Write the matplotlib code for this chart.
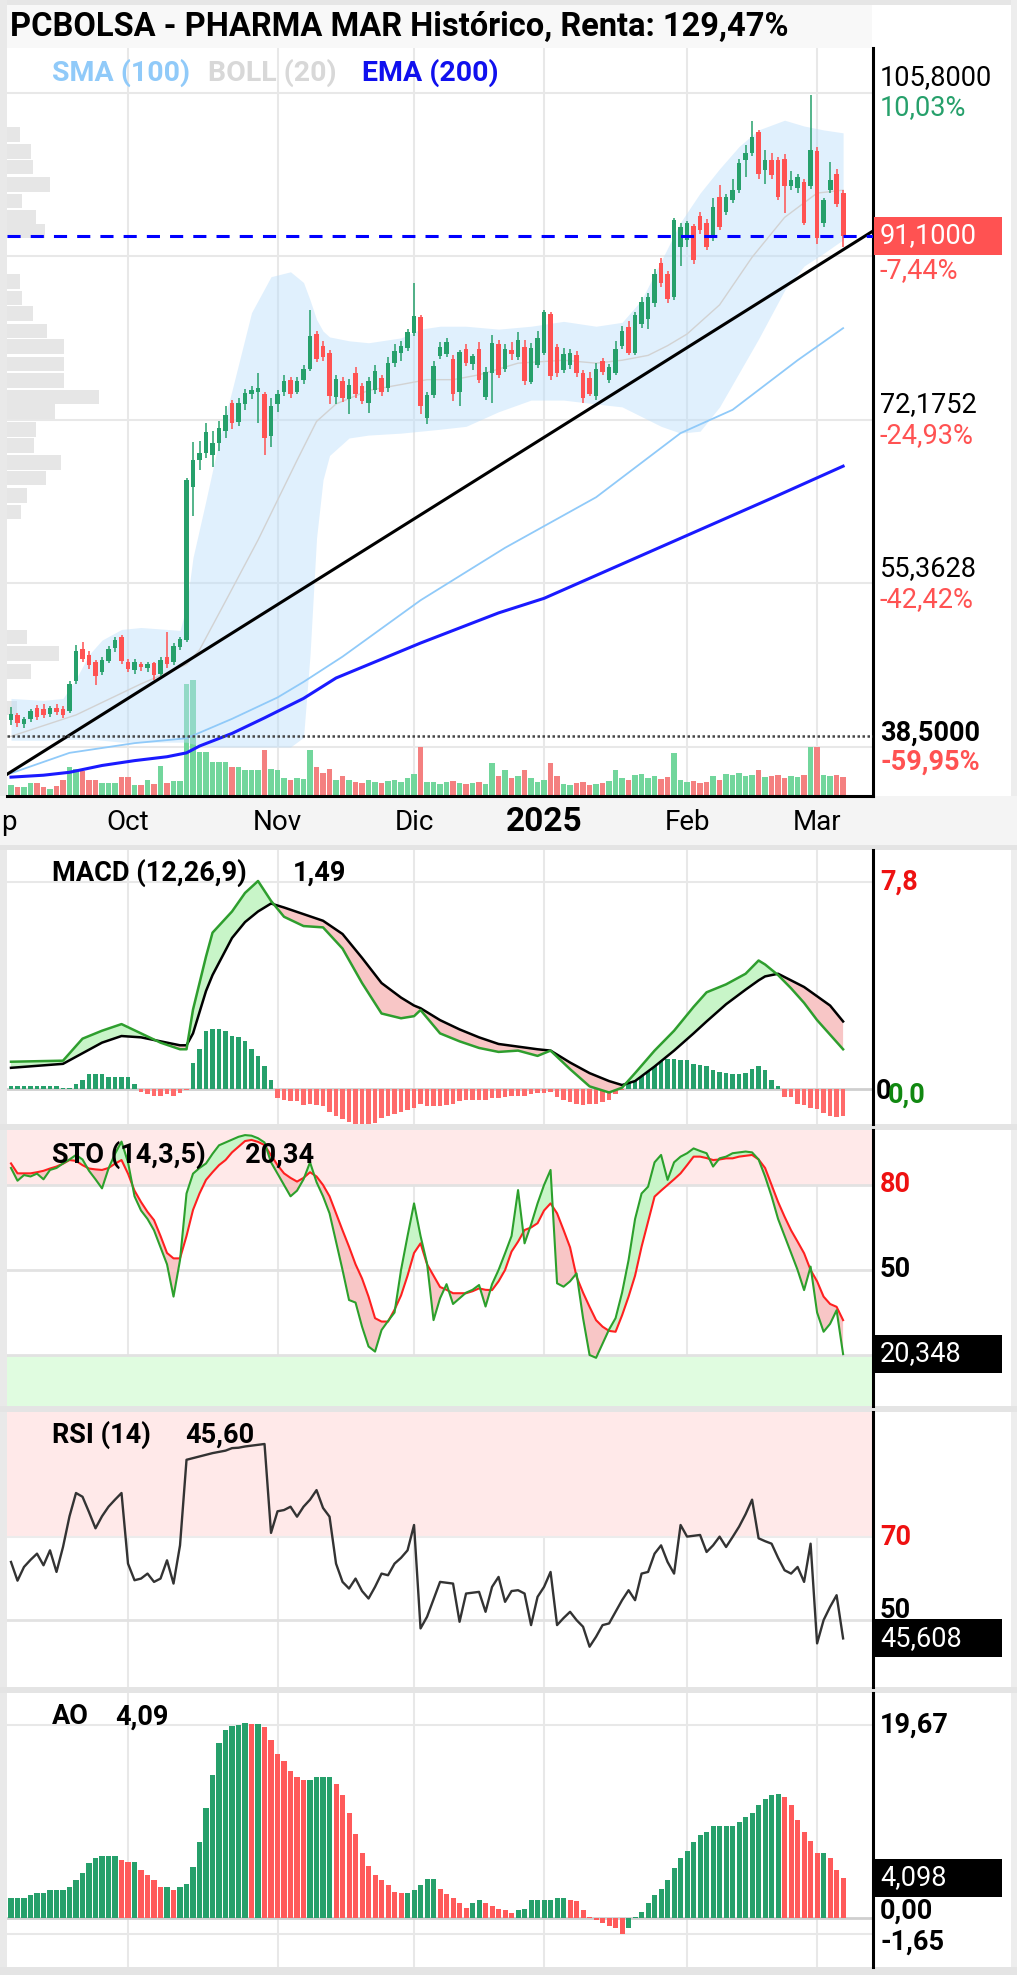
import numpy as np
import matplotlib.pyplot as plt
from matplotlib.patches import Rectangle

plt.rcParams['font.family'] = ['Roboto', 'DejaVu Sans']

# ---------------- datos ----------------
opens = [41.3, 41.8, 40.9, 41.4, 42.5, 42.4, 41.9, 42.5, 42.4, 42.2,
         45.3, 48.6, 48.0, 47.2, 46.2, 47.4, 48.7, 49.8, 47.2, 46.4,
         47.0, 46.6, 47.1, 46.0, 47.8, 47.2, 48.8, 49.5, 65.3, 68.0,
         68.8, 68.5, 69.8, 71.0, 73.9, 71.9, 73.8, 74.8, 75.0, 74.8,
         70.5, 73.8, 75.0, 76.3, 75.0, 76.3, 77.4, 81.0, 79.8, 79.0,
         74.5, 76.2, 74.3, 77.0, 75.6, 73.9, 75.2, 76.5, 75.4, 78.0,
         79.0, 79.6, 81.1, 82.8, 72.4, 74.7, 78.7, 78.9, 78.4, 75.0,
         79.5, 77.9, 79.5, 74.5, 77.0, 80.0, 77.4, 79.4, 78.6, 79.7,
         76.1, 77.8, 79.0, 83.1, 79.7, 77.3, 77.8, 78.8, 77.0, 76.5,
         74.6, 78.2, 76.3, 77.0, 79.8, 81.7, 79.0, 82.0, 82.5, 84.2,
         88.3, 87.2, 84.8, 90.0, 90.7, 92.1, 93.1, 92.4, 91.0, 95.1,
         93.6, 94.8, 95.8, 98.9, 99.6, 101.8, 97.9, 98.9, 98.9, 99.0,
         96.2, 96.0, 96.6, 96.2, 99.8, 92.4, 95.8, 97.5, 95.5]
highs = [42.6, 42.0, 41.6, 42.4, 42.8, 42.9, 42.7, 42.9, 42.7, 45.3,
         49.0, 49.3, 48.4, 47.5, 47.8, 48.9, 49.8, 50.0, 47.6, 47.6,
         47.3, 47.3, 47.3, 47.8, 50.3, 49.2, 49.8, 66.2, 69.9, 70.0,
         71.8, 71.0, 72.0, 73.6, 74.2, 74.4, 75.3, 75.6, 77.0, 75.0,
         74.4, 75.2, 76.8, 76.6, 76.6, 77.8, 83.5, 81.3, 80.3, 79.4,
         76.8, 76.6, 76.4, 77.6, 76.0, 76.6, 77.8, 76.8, 78.6, 80.0,
         80.3, 81.5, 86.2, 83.0, 75.0, 78.2, 80.2, 80.6, 78.8, 79.4,
         80.0, 78.9, 80.2, 77.6, 80.9, 80.4, 80.0, 80.2, 81.2, 80.4,
         80.1, 81.3, 83.5, 83.3, 80.0, 79.6, 79.5, 79.2, 77.3, 77.1,
         78.0, 78.5, 77.9, 80.3, 81.8, 82.3, 83.3, 84.8, 85.2, 87.7,
         88.8, 87.5, 92.9, 92.4, 92.6, 92.3, 93.6, 92.8, 95.0, 96.3,
         95.4, 97.0, 99.0, 100.5, 102.9, 102.0, 99.9, 99.6, 99.2, 99.5,
         97.8, 97.5, 97.0, 105.6, 100.2, 95.0, 98.7, 98.0, 95.8]
lows = [40.8, 40.6, 40.5, 41.1, 41.3, 41.5, 41.6, 41.8, 41.5, 42.0,
        45.0, 47.2, 46.5, 44.9, 45.9, 47.1, 48.3, 47.0, 46.2, 46.0,
        46.3, 46.2, 45.4, 45.8, 46.6, 46.9, 48.5, 49.3, 62.3, 67.0,
        68.2, 67.3, 69.0, 70.3, 71.2, 71.5, 73.2, 74.3, 71.8, 68.6,
        69.4, 73.0, 74.6, 74.4, 74.8, 75.9, 77.2, 78.1, 78.2, 73.8,
        73.8, 74.0, 72.8, 74.4, 73.8, 72.9, 74.8, 74.6, 75.0, 77.6,
        78.2, 79.2, 80.8, 72.8, 71.7, 74.4, 78.4, 78.6, 74.1, 73.6,
        77.7, 77.3, 76.0, 74.2, 73.9, 76.5, 77.1, 78.3, 78.3, 75.8,
        75.9, 77.5, 78.8, 76.3, 76.6, 77.0, 77.4, 76.6, 73.9, 74.6,
        74.2, 76.8, 76.0, 76.8, 79.5, 78.8, 78.8, 81.6, 81.5, 83.8,
        85.8, 84.2, 84.5, 88.0, 90.0, 88.2, 91.3, 89.6, 90.6, 91.7,
        93.2, 94.5, 95.5, 97.2, 99.3, 96.9, 96.4, 97.0, 94.8, 93.5,
        95.8, 95.5, 92.2, 95.9, 90.3, 92.0, 95.5, 94.1, 90.0]
closes = [41.9, 41.0, 41.4, 42.2, 41.6, 41.8, 42.5, 42.1, 41.8, 45.0,
          48.4, 47.6, 46.9, 45.8, 47.5, 48.6, 49.5, 47.4, 46.5, 47.3,
          46.7, 47.0, 45.9, 47.5, 47.0, 48.9, 49.6, 66.0, 68.0, 68.8,
          70.9, 69.8, 71.3, 72.7, 71.8, 73.9, 74.9, 75.2, 75.4, 70.3,
          73.6, 74.8, 76.2, 74.8, 76.2, 77.4, 80.8, 78.4, 78.6, 74.6,
          76.4, 74.4, 75.8, 74.8, 74.1, 76.2, 77.2, 75.0, 78.0, 79.2,
          79.8, 81.2, 82.9, 73.6, 74.7, 77.7, 79.7, 80.2, 74.8, 79.1,
          78.0, 78.7, 76.3, 77.1, 80.1, 76.8, 79.5, 78.9, 80.4, 76.2,
          79.6, 80.6, 83.3, 76.7, 77.0, 78.9, 79.0, 77.0, 74.4, 74.8,
          77.4, 77.1, 77.6, 79.5, 81.3, 79.0, 83.0, 84.3, 84.8, 87.2,
          86.2, 84.6, 92.7, 92.0, 92.4, 88.6, 91.7, 90.0, 94.1, 92.0,
          95.1, 95.8, 98.6, 99.6, 101.3, 97.5, 98.9, 97.4, 95.1, 96.2,
          96.8, 97.2, 92.4, 99.9, 90.9, 94.8, 96.8, 94.4, 91.1]
volume = [11, 9, 9, 13, 13, 9, 7, 10, 16, 29,
          27, 25, 16, 16, 13, 13, 13, 19, 19, 11,
          11, 16, 12, 30, 13, 15, 15, 112, 116, 44,
          44, 34, 34, 34, 29, 29, 26, 26, 26, 46,
          27, 26, 18, 16, 18, 17, 46, 29, 23, 27,
          16, 20, 16, 14, 13, 16, 14, 13, 15, 16,
          14, 18, 22, 49, 14, 14, 12, 14, 15, 13,
          12, 13, 14, 12, 33, 20, 26, 18, 20, 26,
          18, 14, 16, 33, 20, 12, 11, 13, 14, 11,
          12, 13, 15, 26, 18, 16, 21, 22, 18, 20,
          17, 19, 43, 16, 14, 15, 13, 14, 20, 16,
          22, 21, 23, 20, 21, 26, 19, 20, 21, 18,
          20, 19, 21, 49, 49, 21, 20, 21, 19]

# medias y bandas (puntos leidos: indice de sesion, valor)
bb_x = [0, 5, 8, 10, 12, 14, 17, 20, 24, 26, 27, 28, 30, 32, 34, 37, 40, 43, 45, 46,
        47, 48, 49, 52, 55, 60, 63, 66, 70, 75, 80, 85, 90, 94, 97, 100, 103, 106, 109,
        112, 115, 119, 122, 125, 128]
bb_up = [43.5, 43.3, 43.5, 45.5, 48.0, 49.5, 50.6, 50.8, 50.6, 50.5, 53.0, 58.0, 63.9,
         70.0, 75.2, 83.2, 86.9, 87.4, 86.3, 84.5, 82.5, 81.3, 80.7, 80.3, 80.1, 80.6,
         81.5, 81.8, 81.8, 81.5, 81.8, 82.3, 81.8, 82.2, 84.5, 88.5, 92.5, 95.5, 98.0,
         100.3, 102.0, 103.0, 102.4, 102.0, 101.7]
bb_lo = [39.2, 39.2, 39.3, 39.3, 39.3, 39.2, 39.0, 39.0, 39.0, 39.0, 39.0, 38.8, 38.6,
         38.5, 38.5, 38.5, 38.5, 38.5, 39.5, 48.0, 60.0, 66.0, 68.5, 70.3, 70.6, 70.8,
         71.0, 71.2, 71.5, 73.0, 74.2, 74.2, 73.8, 73.5, 72.5, 71.5, 70.8, 71.0, 73.5,
         77.0, 80.5, 85.5, 88.0, 89.3, 90.7]
bb_mid_x = [0, 10, 20, 27, 29, 33, 38, 41, 44, 47, 50, 55, 60, 64, 68, 72, 78, 85, 90,
            94, 98, 101, 104, 109, 114, 119, 124, 128]
bb_mid = [39.6, 41.8, 45.0, 47.0, 48.5, 53.5, 59.8, 63.9, 68.0, 72.0, 73.8, 75.2, 75.8,
          76.3, 76.3, 76.8, 78.0, 78.3, 78.0, 78.3, 78.8, 79.8, 81.0, 84.0, 88.9, 93.0,
          95.5, 95.8]
sma_x = [0, 9, 19, 27, 34, 41, 45, 51, 63, 76, 90, 103, 111, 121, 128]
sma100 = [35.8, 37.9, 38.9, 39.4, 41.4, 43.6, 45.2, 47.8, 53.6, 59.0, 64.2, 70.8, 73.2,
          78.3, 81.6]
ema_x = [0, 5, 9, 14, 19, 24, 27, 29, 34, 39, 45, 50, 63, 75, 82, 100, 117, 128]
ema200 = [35.4, 35.6, 35.9, 36.6, 37.1, 37.5, 37.9, 38.6, 39.9, 41.5, 43.5, 45.6, 49.2,
          52.3, 53.8, 59.1, 64.1, 67.4]
trend_x = [-0.6, 132.6]
trend_y = [35.7, 91.6]
last_price = 91.1
dotted_level = 39.63

# perfil de volumen (precio, ancho en sesiones)
vp_price = [101.5, 99.8, 98.2, 96.4, 94.7, 93.0, 91.6, 86.4, 84.7, 83.1, 81.3, 79.7,
            77.9, 76.2, 74.5, 73.0, 71.2, 69.5, 67.8, 66.2, 64.4, 62.7, 49.8, 48.1,
            46.3, 42.5]
vp_width = [2.0, 3.7, 4.0, 6.6, 2.3, 4.5, 5.8, 2.0, 2.3, 4.0, 6.2, 8.8, 8.8, 8.8, 14.2,
            7.4, 4.5, 4.2, 8.3, 6.0, 3.1, 2.2, 3.1, 8.0, 3.7, 1.5]

# rejilla de precios y etiquetas
grid_prices = [105.8, 88.99, 72.1752, 55.3628, 38.5]
month_idx = [18, 41, 62, 82, 104, 124]
month_lbl = ['Oct', 'Nov', 'Dic', '2025', 'Feb', 'Mar']

# MACD (12,26,9)
macd_x = [0, 8, 11, 14, 17, 20, 23, 26, 27, 28, 30, 31, 34, 36, 38, 40, 42, 45, 48, 51,
          54, 57, 60, 62, 63, 66, 69, 72, 75, 78, 81, 83, 86, 89, 92, 94, 96, 99, 102,
          105, 107, 110, 113, 115, 116, 118, 120, 122, 124, 126, 128]
macd = [1.03, 1.07, 1.9, 2.2, 2.45, 2.1, 1.75, 1.5, 1.5, 3.0, 5.0, 5.9, 6.7, 7.4, 7.85,
        7.1, 6.5, 6.15, 6.1, 5.3, 4.0, 2.85, 2.67, 2.75, 2.98, 2.1, 1.8, 1.55, 1.4, 1.45,
        1.25, 1.45, 0.75, 0.1, -0.13, 0.05, 0.6, 1.45, 2.2, 3.1, 3.65, 3.95, 4.35, 4.85,
        4.7, 4.3, 3.8, 3.25, 2.6, 2.05, 1.5]
macd_signal = [0.8, 0.95, 1.35, 1.75, 2.0, 1.95, 1.8, 1.65, 1.65, 2.1, 3.7, 4.3, 5.7, 6.3,
               6.7, 7.0, 6.85, 6.6, 6.35, 5.85, 4.95, 4.0, 3.45, 3.15, 3.05, 2.6, 2.25,
               1.95, 1.7, 1.6, 1.5, 1.45, 1.0, 0.6, 0.3, 0.15, 0.3, 0.85, 1.45, 2.1, 2.55,
               3.2, 3.75, 4.1, 4.25, 4.35, 4.1, 3.85, 3.5, 3.15, 2.55]
macd_hist = [0.12, 0.13, 0.12, 0.13, 0.12, 0.13, 0.12, 0.10, 0.03, 0.05,
             0.2, 0.35, 0.55, 0.55, 0.55, 0.45, 0.45, 0.45, 0.45, 0.2,
             -0.1, -0.2, -0.28, -0.28, -0.2, -0.25, -0.15, -0.05, 1.0, 1.5,
             2.2, 2.25, 2.25, 2.2, 2.0, 1.95, 1.8, 1.5, 1.25, 0.85,
             0.35, -0.35, -0.4, -0.45, -0.45, -0.6, -0.55, -0.6, -0.65, -0.85,
             -1.0, -1.15, -1.25, -1.35, -1.4, -1.35, -1.3, -1.1, -1.0, -0.95,
             -0.85, -0.8, -0.7, -0.55, -0.65, -0.65, -0.65, -0.6, -0.55, -0.45,
             -0.4, -0.4, -0.4, -0.4, -0.35, -0.35, -0.3, -0.28, -0.25, -0.25,
             -0.2, -0.15, -0.15, -0.1, -0.3, -0.4, -0.5, -0.55, -0.6, -0.55,
             -0.55, -0.5, -0.4, -0.2, -0.05, 0.23, 0.45, 0.55, 0.8, 1.05,
             1.15, 1.15, 1.15, 1.1, 1.1, 0.95, 0.9, 0.85, 0.7, 0.65,
             0.6, 0.55, 0.55, 0.6, 0.75, 0.85, 0.7, 0.35, 0.1, -0.3,
             -0.3, -0.55, -0.6, -0.7, -0.75, -0.9, -1.0, -1.05, -1.0]

# Estocastico (14,3,5)
sto_k = [86, 81.5, 83.5, 83, 84, 82, 85.3, 86, 87.6, 89,
         90.6, 89, 85, 82, 78.8, 85.8, 91, 95.3, 88, 76,
         71, 68, 64, 58, 52, 40.6, 53.5, 77, 84, 86,
         87.6, 91, 94, 95, 96, 97, 97.6, 97.4, 96.5, 95,
         88, 84, 80, 76, 78, 82, 88, 81, 76, 70,
         60, 50, 39.4, 38.5, 30, 23, 21.2, 28.8, 32, 35,
         50, 62, 73.5, 62, 52.3, 32.3, 40, 45, 38, 40,
         42, 43, 44.7, 37.1, 45, 50, 55.9, 62, 78.2, 59.4,
         66, 73.5, 80, 85.3, 45.3, 44.1, 46, 48.8, 33, 20,
         19, 24, 29, 33, 42, 53.5, 68, 77, 79.4, 88,
         90.6, 81.8, 88, 90, 91.2, 92.9, 92, 91.2, 86.5, 89.4,
         90, 91.2, 91.5, 91.8, 91.5, 89, 83, 76, 68, 62,
         56, 50, 42.9, 51.2, 35, 28.2, 31, 35.8, 20.3]
sto_d = [87.6, 84.1, 84.1, 84.1, 84.5, 85, 85.8, 86.5, 87.5, 88.8,
         88.5, 87, 85.8, 85.5, 85.3, 86, 87.5, 88.8, 84, 78,
         74, 70.5, 67.6, 62, 56, 54.1, 54.1, 62, 71.2, 77,
         81.8, 84.5, 87, 88.8, 91.5, 93.5, 95.5, 95.9, 95.2, 94.1,
         90.5, 87, 84.1, 82.5, 81.2, 82.5, 84.5, 83, 80, 76,
         70, 64, 58.2, 52, 47, 40.6, 33, 31.8, 31.8, 36,
         41, 48, 56, 59.4, 52, 48, 44, 43, 41.8, 41.8,
         41.8, 42.5, 43.5, 43, 42.9, 46, 50, 56.5, 60, 64.1,
         65, 66.5, 71, 73.5, 70, 64.1, 58, 47.6, 42, 37,
         32.3, 30, 28.5, 28.2, 34, 40.6, 48, 58.2, 67, 75.9,
         78, 80, 82, 84.1, 87, 90, 90, 89.5, 88.8, 89,
         89.4, 89.4, 90, 90.3, 90.6, 89, 86, 80, 74, 68.8,
         64, 60, 55.9, 50, 46, 40.6, 38, 37, 32.3]

# RSI (14)
rsi = [64.0, 59.5, 62.8, 64.5, 66.0, 63.2, 66.8, 61.6, 67.6, 75.0,
       80.6, 79.7, 76.0, 72.1, 75.0, 77.3, 79.0, 80.6, 63.6, 59.6,
       60.0, 61.2, 59.2, 60.0, 64.4, 58.8, 68.0, 88.6, 89.0, 89.4,
       89.8, 90.2, 90.5, 90.8, 91.4, 91.5, 91.8, 92.0, 92.2, 92.4,
       71.0, 76.2, 76.5, 77.3, 74.9, 77.3, 79.0, 81.3, 77.0, 74.9,
       63.6, 59.2, 57.6, 60.0, 57.0, 55.2, 58.0, 61.2, 60.8, 63.6,
       65.0, 66.8, 72.9, 48.0, 50.8, 55.0, 59.2, 59.0, 58.8, 49.6,
       56.4, 56.6, 56.8, 52.0, 58.0, 60.4, 54.4, 57.0, 57.2, 56.4,
       48.8, 55.6, 58.0, 61.6, 48.8, 50.5, 52.0, 50.0, 48.4, 43.6,
       46.0, 48.8, 49.2, 52.0, 54.8, 57.2, 54.8, 61.2, 61.6, 66.0,
       68.0, 64.0, 61.2, 72.9, 70.1, 70.3, 70.5, 66.4, 68.0, 70.1,
       67.6, 70.0, 72.5, 75.5, 79.0, 69.7, 69.0, 68.4, 65.0, 62.0,
       61.2, 62.8, 59.2, 68.4, 44.4, 50.0, 53.2, 56.0, 45.6]

# Awesome Oscillator
ao = [2.0, 2.0, 2.0, 2.4, 2.6, 2.6, 2.9, 2.9, 2.9, 3.2,
      3.9, 4.6, 5.6, 6.1, 6.35, 6.35, 6.35, 5.9, 5.7, 5.7,
      4.9, 4.4, 3.9, 3.2, 3.2, 2.9, 3.2, 3.5, 5.2, 7.8,
      11.2, 14.6, 17.8, 19.2, 19.6, 19.7, 19.85, 19.75, 19.8, 19.5,
      18.2, 16.7, 16.0, 15.0, 14.4, 14.1, 14.1, 14.4, 14.4, 14.4,
      13.7, 12.5, 10.7, 8.6, 6.6, 5.3, 4.4, 3.9, 3.4, 2.7,
      2.6, 2.6, 2.9, 3.4, 4.0, 4.0, 3.0, 2.5, 2.0, 1.5,
      1.0, 1.5, 1.8, 1.5, 1.2, 0.9, 0.8, 0.5, 0.8, 0.9,
      1.8, 1.8, 1.8, 1.8, 2.0, 2.0, 1.8, 1.7, 0.8, 0.1,
      -0.25, -0.5, -0.8, -1.0, -1.6, -1.0, 0.1, 0.6, 1.5, 2.4,
      3.0, 3.9, 5.1, 6.1, 6.8, 7.8, 8.5, 8.8, 9.4, 9.4,
      9.4, 9.4, 9.8, 10.3, 10.7, 11.5, 12.1, 12.5, 12.6, 12.3,
      11.5, 10.0, 8.8, 7.9, 6.6, 6.6, 6.1, 4.9, 4.1]

# ---------------- estilo ----------------
GREEN = '#26a06b'
RED = '#ff5252'
VGREEN = '#72d69c'
VRED = '#f48080'
GRID = '#e8e8e8'
FS = 19.5

W, H = 1017, 1975
fig = plt.figure(figsize=(W / 100, H / 100), dpi=100)
fig.patch.set_facecolor('white')


def axes_px(x0, y0, x1, y1):
    return fig.add_axes([x0 / W, 1 - y1 / H, (x1 - x0) / W, (y1 - y0) / H])


def rect_px(x0, y0, x1, y1, color, z=-5):
    fig.add_artist(Rectangle((x0 / W, 1 - y1 / H), (x1 - x0) / W, (y1 - y0) / H,
                             transform=fig.transFigure, fc=color, ec='none', zorder=z))


def txt_px(x, y, s, **kw):
    kw.setdefault('fontsize', FS)
    kw.setdefault('va', 'center')
    fig.text(x / W, 1 - y / H, s, **kw)


def ypx(a, v):
    return a.transData.transform((0, v))[1]


def rlabel(a, v, s, color='black', dy=0, weight='normal', x=880, size=FS):
    fig.text(x / W, (ypx(a, v) + dy) / H, s, color=color, fontsize=size,
             fontweight=weight, va='center', ha='left', zorder=6)


def rbox(a, v, s, fc):
    yc = ypx(a, v)
    fig.add_artist(Rectangle((874 / W, (yc - 19) / H), 128 / W, 38 / H,
                             transform=fig.transFigure, fc=fc, ec='none', zorder=5))
    fig.text(880 / W, yc / H, s, color='white', fontsize=FS, va='center',
             ha='left', zorder=7)


def clean(a, right=True):
    for s in a.spines.values():
        s.set_visible(False)
    if right:
        a.spines['right'].set_visible(True)
        a.spines['right'].set_color('black')
        a.spines['right'].set_linewidth(2.2)
    a.set_xticks([])
    a.set_yticks([])


XL = (-0.615, 132.6)
x = np.arange(len(closes))
o = np.array(opens)
c = np.array(closes)
h = np.array(highs)
l = np.array(lows)
up = c >= o

# ---------------- fondos y franjas ----------------
rect_px(0, 0, W, 5, '#e6e6e6')
rect_px(0, 5, 872, 48, '#f8f8f8')
rect_px(0, 0, 7, H, '#e9e9e9')
rect_px(1011, 0, W, H, '#ededed')
rect_px(0, 796, W, 845, '#f4f4f4')
for y0, y1 in [(845, 850), (1124, 1130), (1406, 1412), (1687, 1693), (1967, H)]:
    rect_px(0, y0, W, y1, '#e4e4e4')

# ---------------- grafico principal ----------------
MAIN = (7, 48, 873, 796)
PY = (33.46, 110.43)

axb = axes_px(*MAIN)
axb.set_xlim(XL)
axb.set_ylim(PY)
clean(axb, right=False)
for p in grid_prices:
    axb.axhline(p, color=GRID, lw=1.5, zorder=0)
for m in month_idx:
    axb.axvline(m, color=GRID, lw=1.5, zorder=0)
axb.barh(vp_price, vp_width, height=1.5, left=XL[0], color='#e6e6e6', zorder=1)

axv = axes_px(*MAIN)
axv.set_xlim(XL)
axv.set_ylim(0, 748)
axv.patch.set_visible(False)
clean(axv, right=False)
axv.bar(x, volume, width=0.8, color=np.where(up, VGREEN, VRED), zorder=1)

ax = axes_px(*MAIN)
ax.set_xlim(XL)
ax.set_ylim(PY)
ax.patch.set_visible(False)
clean(ax)
ax.spines['bottom'].set_visible(True)
ax.spines['bottom'].set_color('black')
ax.spines['bottom'].set_linewidth(2.2)

ax.fill_between(bb_x, bb_lo, bb_up, color='#bbdefb', alpha=0.45, lw=0, zorder=1)
ax.plot(bb_mid_x, bb_mid, color='#d2d2d2', lw=1.0, zorder=2)
ax.plot(sma_x, sma100, color='#90caf9', lw=1.3, zorder=2)
ax.plot(ema_x, ema200, color='#1a1aff', lw=2.2, zorder=2)
ax.plot(trend_x, trend_y, color='black', lw=2.2, zorder=3)
ax.axhline(dotted_level, color='#444444', lw=1.8, dashes=(1.0, 1.0), zorder=3)

col = np.where(up, GREEN, RED)
ax.vlines(x, l, h, colors=col, lw=1.1, zorder=4)
ax.bar(x, np.maximum(np.abs(c - o), 0.2), bottom=np.minimum(o, c), width=0.74,
       color=col, zorder=5)
ax.axhline(last_price, color='#0000ff', lw=2.2, dashes=(4.3, 3.3), zorder=6)

# titulo y leyenda
txt_px(10, 27, 'PCBOLSA - PHARMA MAR Histórico, Renta: 129,47%', fontweight='bold',
       fontsize=23.5)
txt_px(52, 73, 'SMA (100)', color='#90caf9', fontweight='bold', fontsize=20.5)
txt_px(208, 73, 'BOLL (20)', color='#d8d8d8', fontweight='bold', fontsize=20.5)
txt_px(362, 73, 'EMA (200)', color='#1010ee', fontweight='bold', fontsize=20.5)

# etiquetas del eje derecho
rlabel(ax, 105.8, '105,8000', dy=15)
rlabel(ax, 105.8, '10,03%', color=GREEN, dy=-15)
rlabel(ax, 88.99, '-7,44%', color=RED, dy=-14)
rlabel(ax, 72.1752, '72,1752', dy=15)
rlabel(ax, 72.1752, '-24,93%', color=RED, dy=-16)
rlabel(ax, 55.3628, '55,3628', dy=15)
rlabel(ax, 55.3628, '-42,42%', color=RED, dy=-16)
rlabel(ax, 38.5, '38,5000', dy=14, weight='bold')
rlabel(ax, 38.5, '-59,95%', color=RED, dy=-15, weight='bold')
rbox(ax, last_price, '91,1000', RED)

# eje de fechas
axd = axes_px(0, 796, 873, 845)
axd.set_xlim(-1.692, 132.6)
axd.set_ylim(0, 1)
axd.patch.set_visible(False)
clean(axd, right=False)
axd.text(-0.3, 0.45, 'p', fontsize=20, ha='center', va='center')
for m, s in zip(month_idx, month_lbl):
    if s == '2025':
        axd.text(m, 0.47, s, fontsize=24, fontweight='bold', ha='center', va='center')
    else:
        axd.text(m, 0.45, s, fontsize=20, ha='center', va='center')


def panel(y0, y1, ylim):
    a = axes_px(7, y0, 873, y1)
    a.set_xlim(XL)
    a.set_ylim(ylim)
    clean(a)
    for m in month_idx:
        a.axvline(m, color=GRID, lw=1.5, zorder=0)
    return a


LW = 'bold'

# ---------------- MACD ----------------
am = panel(850, 1124, (-1.32, 9.02))
am.axhline(7.8, color=GRID, lw=1.5, zorder=0)
am.axhline(0, color='#cfcfcf', lw=2, zorder=0)
hcol = np.where(np.array(macd_hist) >= 0, GREEN, '#ff6b6b')
am.bar(x, macd_hist, width=0.7, color=hcol, zorder=1)
mx = np.array(macd_x, dtype=float)
mv = np.array(macd)
sv = np.array(macd_signal)
am.fill_between(mx, mv, sv, where=mv >= sv, interpolate=True, color='#c8f5c8', lw=0, zorder=2)
am.fill_between(mx, mv, sv, where=mv < sv, interpolate=True, color='#f8c6c6', lw=0, zorder=2)
am.plot(mx, sv, color='black', lw=1.8, zorder=3)
am.plot(mx, mv, color='#2e9e2e', lw=1.8, zorder=4)
txt_px(52, 873, 'MACD (12,26,9)', fontweight=LW)
txt_px(293, 873, '1,49', fontweight=LW)
rlabel(am, 7.8, '7,8', color='#ee1111', weight='bold')
rlabel(am, 0, '0', dy=-2, x=876, weight='bold')
rlabel(am, 0, '0,0', color='#118811', dy=-6, x=888, weight='bold')

# ---------------- Estocastico ----------------
ast = panel(1130, 1406, (2.0, 99.4))
ast.axhspan(80, 100, color='#ffe9e9', lw=0, zorder=0)
ast.axhspan(0, 20, color='#e0fce0', lw=0, zorder=0)
for v in (80, 50, 20):
    ast.axhline(v, color='#e2e2e2', lw=2, zorder=0)
kv = np.array(sto_k)
dv = np.array(sto_d)
ast.fill_between(x, kv, dv, where=kv >= dv, interpolate=True, color='#c8f5c8', lw=0, zorder=2)
ast.fill_between(x, kv, dv, where=kv < dv, interpolate=True, color='#f8c6c6', lw=0, zorder=2)
ast.plot(x, dv, color='#ff2020', lw=1.5, zorder=3)
ast.plot(x, kv, color='#2ca02c', lw=1.5, zorder=4)
txt_px(52, 1155, 'STO (14,3,5)', fontweight=LW)
txt_px(245, 1155, '20,34', fontweight=LW)
rlabel(ast, 80, '80', color='#ee1111', weight='bold')
rlabel(ast, 50, '50', weight='bold')
rbox(ast, 20.348, '20,348', 'black')

# ---------------- RSI ----------------
ar = panel(1412, 1687, (33.9, 100.1))
ar.axhspan(70, 101, color='#ffe9e9', lw=0, zorder=0)
ar.axhline(70, color='#ececec', lw=1.5, zorder=0)
ar.axhline(50, color='#e2e2e2', lw=2, zorder=0)
ar.plot(x, rsi, color='#333333', lw=1.7, zorder=3)
txt_px(52, 1435, 'RSI (14)', fontweight=LW)
txt_px(185, 1435, '45,60', fontweight=LW)
rlabel(ar, 70, '70', color='#ee1111', weight='bold')
rlabel(ar, 50, '50', dy=10, weight='bold')
rbox(ar, 45.608, '45,608', 'black')

# ---------------- AO ----------------
aa = panel(1693, 1967, (-4.99, 22.94))
aa.axhline(19.67, color=GRID, lw=1.5, zorder=0)
aa.axhline(-1.65, color=GRID, lw=1.5, zorder=0)
aa.axhline(0, color='#cfcfcf', lw=2, zorder=0)
av = np.array(ao)
acol = [GREEN] + [GREEN if av[i] >= av[i - 1] else '#ff5a5a' for i in range(1, len(av))]
aa.bar(x, av, width=0.78, color=acol, zorder=1)
txt_px(52, 1717, 'AO', fontweight=LW)
txt_px(115, 1717, '4,09', fontweight=LW)
rlabel(aa, 19.67, '19,67', weight='bold')
rlabel(aa, 0, '0,00', dy=7, weight='bold')
rlabel(aa, -1.65, '-1,65', dy=-8, weight='bold')
rbox(aa, 4.098, '4,098', 'black')

fig.savefig('out.png', dpi=100)
